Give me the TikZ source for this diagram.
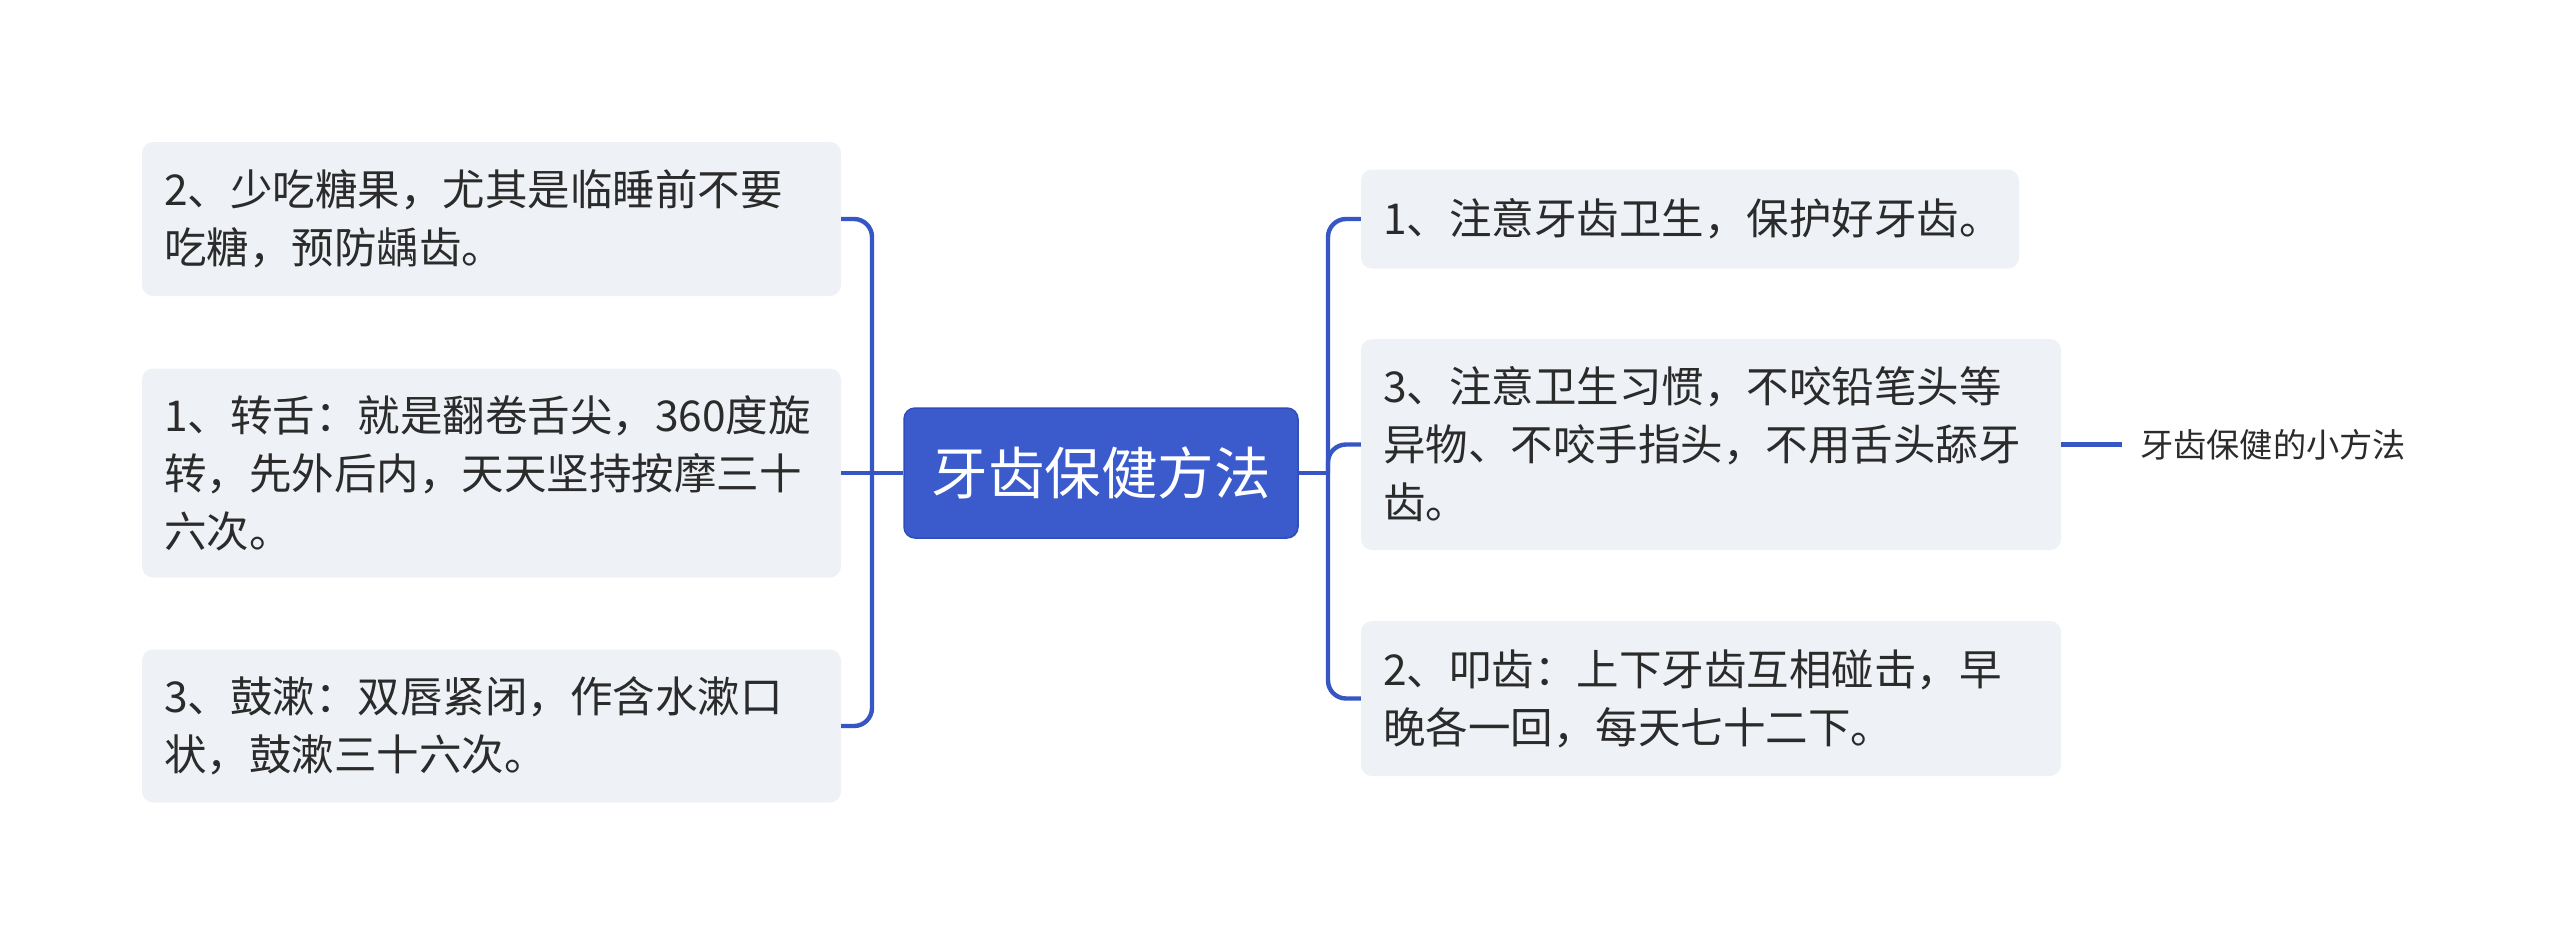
\documentclass[tikz,border=0pt]{standalone}
\usepackage{fontspec}
\newfontfamily\cjk{Noto Sans CJK SC}
\definecolor{linec}{HTML}{3656C6}
\definecolor{mainc}{HTML}{3B5BCC}
\definecolor{mainb}{HTML}{2F4DB8}
\definecolor{boxc}{HTML}{EEF1F5}
\definecolor{txtc}{HTML}{2B2B2B}
\begin{document}
\begin{tikzpicture}[x=1pt,y=-1pt,
  leaf/.style={fill=boxc, rounded corners=11pt, inner xsep=22pt, inner ysep=0pt, align=left,
    text=txtc, font=\cjk\fontsize{42.5}{58}\selectfont, anchor=center},
  rootbox/.style={fill=mainc, draw=mainb, line width=1.5pt, rounded corners=11pt, text=white,
    font=\cjk\fontsize{56.5}{64}\selectfont, minimum width=394pt, minimum height=130pt, inner sep=0pt},
  conn/.style={draw=linec, line width=4.4pt, rounded corners=18pt},
  note/.style={text=txtc, font=\cjk\fontsize{33.2}{40}\selectfont, inner xsep=18pt, inner ysep=0pt, anchor=west}]
\useasboundingbox (0,0) rectangle (2560,946);
% root
\node[rootbox] (C) at (1101,473) {牙齿保健方法};
% left boxes
\node[leaf, text width=655pt, minimum height=154pt] (L1) at (491.5,219) {2、少吃糖果，尤其是临睡前不要\\吃糖，预防龋齿。};
\node[leaf, text width=655pt, minimum height=209pt] (L2) at (491.5,473) {1、转舌：就是翻卷舌尖，360度旋\\转，先外后内，天天坚持按摩三十\\六次。};
\node[leaf, text width=655pt, minimum height=153pt] (L3) at (491.5,726) {3、鼓漱：双唇紧闭，作含水漱口\\状，鼓漱三十六次。};
% right boxes
\node[leaf, text width=614pt, minimum height=99pt] (R1) at (1690,219) {1、注意牙齿卫生，保护好牙齿。};
\node[leaf, text width=656pt, minimum height=211pt] (R2) at (1711,444.5) {3、注意卫生习惯，不咬铅笔头等\\异物、不咬手指头，不用舌头舔牙\\齿。};
\node[leaf, text width=656pt, minimum height=155pt] (R3) at (1711,698.5) {2、叩齿：上下牙齿互相碰击，早\\晚各一回，每天七十二下。};
% note
\node[note] (N) at (2122,444.5) {牙齿保健的小方法};
% junctions
\coordinate (jl) at (872,473);
\coordinate (jr) at (1328,473);
% connectors
\draw[conn] (C.west) -- (jl);
\draw[conn] (jl) |- (L1.east);
\draw[conn] (jl) -- (L2.east);
\draw[conn] (jl) |- (L3.east);
\draw[conn] (C.east) -- (jr);
\draw[conn] (jr) |- (R1.west);
\draw[conn] (jr) |- (R2.west);
\draw[conn] (jr) |- (R3.west);
\draw[conn] (R2.east) -- (N.west);
\end{tikzpicture}
\end{document}
